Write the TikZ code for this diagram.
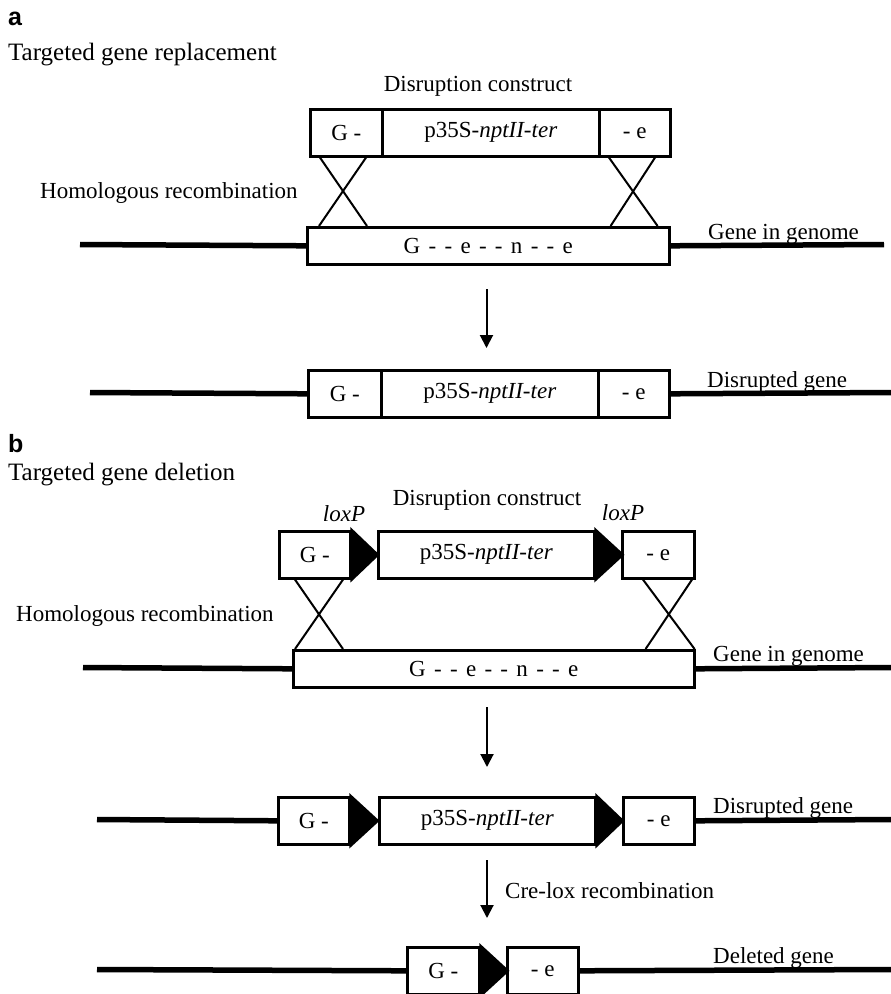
\documentclass[tikz,border=0pt]{standalone}
\usepackage{fontspec}
\setmainfont{Liberation Serif}
\newfontfamily\panelfont{Liberation Sans}
\usetikzlibrary{calc,arrows.meta}
\newcommand\mylbl{\fontsize{23}{27}\selectfont}
\newcommand\myttl{\fontsize{25}{30}\selectfont}
\newcommand\mybx{\fontsize{23}{27}\selectfont}
\newcommand\myplab{\panelfont\bfseries\fontsize{25}{30}\selectfont}
\newcommand\mygap{\hspace{8.3pt}}
\tikzset{
  seg/.style={draw, line width=2.6pt, inner sep=0pt, minimum height=47pt, font=\mybx, anchor=north west},
  gbox/.style={draw, line width=2.6pt, inner sep=0pt, minimum height=37pt, font=\mybx, anchor=north west},
  txt/.style={inner sep=0pt, anchor=base west, font=\mylbl},
  ttl/.style={inner sep=0pt, anchor=base west, font=\myttl},
  plabel/.style={inner sep=0pt, anchor=base west, font=\myplab},
  dna/.style={line width=5.5pt},
  xline/.style={line width=2pt},
  steparrow/.style={line width=2pt, -{Triangle[length=13pt,width=13pt]}},
  lox/.style={fill=black, draw=black, line width=2.6pt, line join=miter}
}
\begin{document}
\begin{tikzpicture}[x=1pt,y=-1pt]
\useasboundingbox (0,0) rectangle (891,994);
% ---------------- panel a ----------------
\node[plabel] (la) at (8,25) {a};
\node[ttl] (ta) at (8,60) {Targeted gene replacement};
\node[txt, anchor=base] (dca) at (478,91) {Disruption construct};
\node[seg, minimum width=72] (cGa) at (309,108) {G -};
\node[seg, minimum width=217] (cPa) at (381,108) {p35S-\textit{nptII-ter}};
\node[seg, minimum width=71] (cEa) at (598,108) {- e};
\node[gbox, minimum width=362] (ga) at (306,226) {G\mygap-\mygap-\mygap e\mygap-\mygap-\mygap n\mygap-\mygap-\mygap e};
\coordinate (gaL) at (80,244.5);
\coordinate (gaR) at (884,244.5);
\draw[dna] (gaL) -- (ga.west);
\draw[dna] (ga.east) -- (gaR);
\draw[xline] ($(cGa.south west)+(11,0)$) -- ($(ga.north west)+(61,0)$);
\draw[xline] ($(cGa.south west)+(57,0)$) -- ($(ga.north west)+(13,0)$);
\draw[xline] ($(cEa.south west)+(11,0)$) -- ($(ga.north east)+(-13,0)$);
\draw[xline] ($(cEa.south west)+(57,0)$) -- ($(ga.north east)+(-60,0)$);
\node[txt] (hra) at (40,198) {Homologous recombination};
\node[txt] (gga) at (708,239) {Gene in genome};
\coordinate (arA1) at (486.5,289);
\coordinate (arA2) at (486.5,348);
\draw[steparrow] (arA1) -- (arA2);
\node[seg, minimum width=73] (dGa) at (307,369) {G -};
\node[seg, minimum width=217] (dPa) at (380,369) {p35S-\textit{nptII-ter}};
\node[seg, minimum width=71] (dEa) at (597,369) {- e};
\coordinate (daL) at (90,392.5);
\coordinate (daR) at (891,392.5);
\draw[dna] (daL) -- (dGa.west);
\draw[dna] (dEa.east) -- (daR);
\node[txt] (dga) at (707,387) {Disrupted gene};
% ---------------- panel b ----------------
\node[plabel] (lb) at (8,452) {b};
\node[ttl] (tb) at (8,480) {Targeted gene deletion};
\node[txt, anchor=base] (dcb) at (487,505) {Disruption construct};
\node[txt, anchor=base] (lx1) at (344,521) {\textit{loxP}};
\node[txt, anchor=base] (lx2) at (623,520) {\textit{loxP}};
\node[seg, minimum width=71] (cGb) at (278,530) {G -};
\filldraw[lox] (cGb.north east) -- ($(cGb.east)+(26,0)$) -- (cGb.south east) -- cycle;
\node[seg, minimum width=216] (cPb) at (377,530) {p35S-\textit{nptII-ter}};
\filldraw[lox] (cPb.north east) -- ($(cPb.east)+(27,0)$) -- (cPb.south east) -- cycle;
\node[seg, minimum width=72] (cEb) at (621,530) {- e};
\node[gbox, minimum width=401] (gb) at (292,649) {G\mygap-\mygap-\mygap e\mygap-\mygap-\mygap n\mygap-\mygap-\mygap e};
\coordinate (gbL) at (83,667.5);
\coordinate (gbR) at (891,667.5);
\draw[dna] (gbL) -- (gb.west);
\draw[dna] (gb.east) -- (gbR);
\draw[xline] ($(cGb.south west)+(17,0)$) -- ($(gb.north west)+(51,0)$);
\draw[xline] ($(cGb.south west)+(65,0)$) -- ($(gb.north west)+(3,0)$);
\draw[xline] ($(cEb.south west)+(22,0)$) -- ($(gb.north east)+(-1,0)$);
\draw[xline] ($(cEb.south west)+(71,0)$) -- ($(gb.north east)+(-50,0)$);
\node[txt] (hrb) at (16,621) {Homologous recombination};
\node[txt] (ggb) at (713,661) {Gene in genome};
\coordinate (arB1) at (487,707);
\coordinate (arB2) at (487,767);
\draw[steparrow] (arB1) -- (arB2);
\node[seg, minimum width=71] (dGb) at (277,796) {G -};
\filldraw[lox] (dGb.north east) -- ($(dGb.east)+(27,0)$) -- (dGb.south east) -- cycle;
\node[seg, minimum width=216] (dPb) at (378,796) {p35S-\textit{nptII-ter}};
\filldraw[lox] (dPb.north east) -- ($(dPb.east)+(26,0)$) -- (dPb.south east) -- cycle;
\node[seg, minimum width=71] (dEb) at (622,796) {- e};
\coordinate (dbL) at (97,819.5);
\coordinate (dbR) at (891,819.5);
\draw[dna] (dbL) -- (dGb.west);
\draw[dna] (dEb.east) -- (dbR);
\node[txt] (dgb) at (713,813) {Disrupted gene};
\coordinate (arC1) at (487,860);
\coordinate (arC2) at (487,918);
\draw[steparrow] (arC1) -- (arC2);
\node[txt] (crl) at (505,898) {Cre-lox recombination};
\node[seg, minimum width=72] (eG) at (406,946) {G -};
\filldraw[lox] (eG.north east) -- ($(eG.east)+(27,0)$) -- (eG.south east) -- cycle;
\node[seg, minimum width=71] (eE) at (506,946) {- e};
\coordinate (eL) at (97,969.5);
\coordinate (eR) at (891,969.5);
\draw[dna] (eL) -- (eG.west);
\draw[dna] (eE.east) -- (eR);
\node[txt] (delg) at (713,963) {Deleted gene};
\end{tikzpicture}
\end{document}
